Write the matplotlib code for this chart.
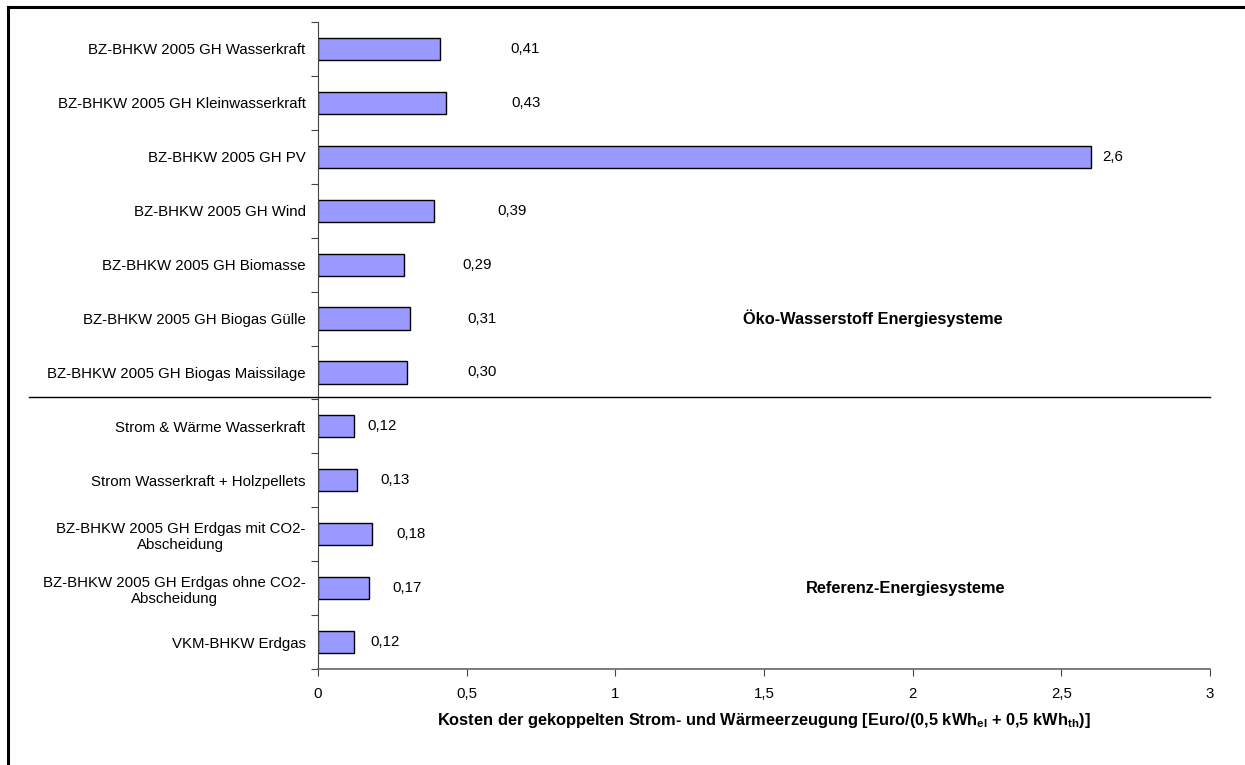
import matplotlib
matplotlib.use("Agg")
import matplotlib.pyplot as plt
from matplotlib.lines import Line2D
from matplotlib import transforms

plt.rcParams['font.family'] = ['Liberation Sans', 'DejaVu Sans']
plt.rcParams['mathtext.fontset'] = 'custom'
plt.rcParams['mathtext.rm'] = 'Liberation Sans'
plt.rcParams['mathtext.bf'] = 'Liberation Sans:bold'

# Kategorien von oben nach unten
categories = [
    "BZ-BHKW 2005 GH Wasserkraft",
    "BZ-BHKW 2005 GH Kleinwasserkraft",
    "BZ-BHKW 2005 GH PV",
    "BZ-BHKW 2005 GH Wind",
    "BZ-BHKW 2005 GH Biomasse",
    "BZ-BHKW 2005 GH Biogas Gülle",
    "BZ-BHKW 2005 GH Biogas Maissilage",
    "Strom & Wärme Wasserkraft",
    "Strom Wasserkraft + Holzpellets",
    "BZ-BHKW 2005 GH Erdgas mit CO2-\nAbscheidung",
    "BZ-BHKW 2005 GH Erdgas ohne CO2-\nAbscheidung",
    "VKM-BHKW Erdgas",
]
costs = [0.41, 0.43, 2.6, 0.39, 0.29, 0.31, 0.30, 0.12, 0.13, 0.18, 0.17, 0.12]
value_labels = ["0,41", "0,43", "2,6", "0,39", "0,29", "0,31", "0,30",
                "0,12", "0,13", "0,18", "0,17", "0,12"]
x_ticks = [0, 0.5, 1, 1.5, 2, 2.5, 3]
x_ticklabels = ["0", "0,5", "1", "1,5", "2", "2,5", "3"]

# Abstand der Wertebeschriftung vom Balkenende (in Punkten, wie im Original verschoben)
label_offsets = [51, 47, 8, 46, 42, 41, 43, 10, 17, 18, 17, 12]

fig = plt.figure(figsize=(12.45, 7.65), dpi=100)
ax = fig.add_axes([318 / 1245, 1 - 669 / 765, (1210 - 318) / 1245, (669 - 22) / 765])

n = len(categories)
pos = list(range(n))
ax.barh(pos, costs, height=0.41, color='#9999ff', edgecolor='black', linewidth=1.0)

for p, v, lab, off in zip(pos, costs, value_labels, label_offsets):
    ax.annotate(lab, (v, p), xytext=(off, 0), textcoords='offset points',
                va='center', ha='left', fontsize=10.8)

ax.set_xlim(0, 3)
ax.set_ylim(n - 0.5, -0.5)

ax.set_xticks(x_ticks)
ax.set_xticklabels(x_ticklabels, fontsize=10.8)
ax.tick_params(axis='x', direction='out', length=5, width=0.8, color='#444444', pad=8)

ax.set_yticks([i - 0.5 for i in range(n + 1)])
ax.set_yticklabels([])
ax.set_yticks(pos, minor=True)
ax.set_yticklabels(categories, minor=True, fontsize=10.8)
for t in ax.get_yticklabels(minor=True):
    t.set_multialignment('center')
ax.tick_params(axis='y', which='major', direction='out', length=5, width=0.8, color='#444444')
ax.tick_params(axis='y', which='minor', length=0, pad=9)

for s in ['top', 'right']:
    ax.spines[s].set_visible(False)
ax.spines['left'].set_color('#444444')
ax.spines['bottom'].set_color('#666666')
ax.spines['bottom'].set_linewidth(1.2)

ax.set_xlabel(r"Kosten der gekoppelten Strom- und Wärmeerzeugung [Euro/(0,5 $\mathbf{kWh_{el}}$ + 0,5 $\mathbf{kWh_{th}}$)]",
              fontsize=11.8, fontweight='bold', labelpad=7)

ax.text(1.43, 5, "Öko-Wasserstoff Energiesysteme", fontsize=11.8, fontweight='bold', va='center')
ax.text(1.64, 10, "Referenz-Energiesysteme", fontsize=11.8, fontweight='bold', va='center')

# Trennlinie zwischen den beiden Gruppen
trans = transforms.blended_transform_factory(fig.transFigure, ax.transData)
sep = Line2D([29 / 1245, 1210 / 1245], [6.45, 6.45], transform=trans, color='black', linewidth=1.0)
sep.set_clip_on(False)
fig.add_artist(sep)

# Rahmen (links und oben sichtbar)
fig.add_artist(Line2D([8 / 1245, 8 / 1245], [0, 1 - 7 / 765], transform=fig.transFigure,
                      color='black', linewidth=2.2))
fig.add_artist(Line2D([8 / 1245, 1], [1 - 7 / 765, 1 - 7 / 765], transform=fig.transFigure,
                      color='black', linewidth=2.2))

fig.savefig("out.png", dpi=100)
